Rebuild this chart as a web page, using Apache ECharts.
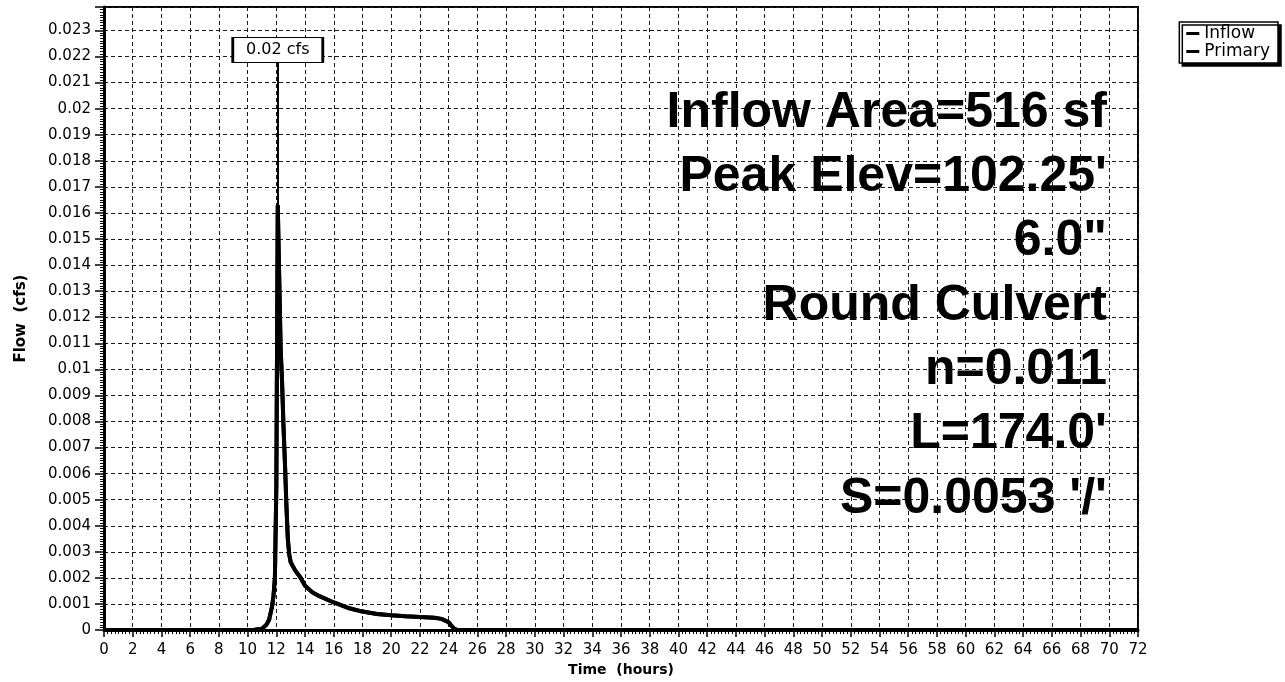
<!DOCTYPE html>
<html>
<head>
<meta charset="utf-8">
<script src="https://cdn.jsdelivr.net/npm/echarts@6/dist/echarts.min.js"></script>
<style>
html,body{margin:0;padding:0;background:#fff;}
#chart{width:1285px;height:682px;}
</style>
</head>
<body>
<div id="chart"></div>
<script>
// ---- data ----
const timeHours = [0, 10.0, 10.5, 11.0, 11.3, 11.5, 11.7, 11.8, 11.9, 12.0, 12.05, 12.1, 12.2, 12.3, 12.4, 12.5, 12.6, 12.7, 12.8, 12.9, 13.0, 13.3, 13.7, 14.0, 14.5, 15.0, 16.0, 17.0, 18.0, 19.0, 20.0, 21.0, 22.0, 23.0, 23.5, 24.0, 24.2, 24.4, 24.6, 72];
const inflowCfs = [0, 0, 0.00001, 0.00005, 0.0002, 0.0004, 0.0009, 0.0013, 0.002, 0.0055, 0.011, 0.0163, 0.0135, 0.0108, 0.0095, 0.0078, 0.0064, 0.0048, 0.0035, 0.0029, 0.0026, 0.0023, 0.0020, 0.0017, 0.00145, 0.0013, 0.00106, 0.00085, 0.00071, 0.00062, 0.00057, 0.00053, 0.0005, 0.00047, 0.00043, 0.0003, 0.00016, 0.00005, 0, 0];
const primaryCfs = [0, 0, 0.00001, 0.00005, 0.0002, 0.0004, 0.0009, 0.0013, 0.002, 0.0055, 0.011, 0.0163, 0.0135, 0.0108, 0.0095, 0.0078, 0.0064, 0.0048, 0.0035, 0.0029, 0.0026, 0.0023, 0.0020, 0.0017, 0.00145, 0.0013, 0.00106, 0.00085, 0.00071, 0.00062, 0.00057, 0.00053, 0.0005, 0.00047, 0.00043, 0.0003, 0.00016, 0.00005, 0, 0];
const seriesNames = ['Inflow', 'Primary'];
const peakTime = 12.1;
const peakFlow = 0.0163;
const peakLabel = '0.02 cfs';
const infoLines = ['Inflow Area=516 sf', "Peak Elev=102.25'", '6.0"', 'Round Culvert', 'n=0.011', "L=174.0'", "S=0.0053 '/'"];
const xAxisName = 'Time  (hours)';
const yAxisName = 'Flow  (cfs)';

// ---- layout constants ----
const LABEL_BOX_Y = 0.02225;
const LEADER_TOP_Y = 0.0218;
const SMALL_FONT = 'DejaVu Sans';
const BIG_FONT = 'Liberation Sans, Arial, sans-serif';

const chart = echarts.init(document.getElementById('chart'), null, {renderer: 'canvas'});

function pairs(xs, ys) { return xs.map((x, i) => [x, ys[i]]); }

const dashed = {show: true, lineStyle: {color: '#1a1a1a', width: 1, type: [4, 3]}};

const textGraphics = infoLines.map((line, i) => ({
  type: 'text',
  right: 1285 - 1107,
  top: 114 + i * 64.3 - 26,
  style: {
    text: line,
    fill: '#000',
    font: 'bold 50px ' + BIG_FONT,
    textAlign: 'right'
  },
  z: 5
}));

chart.setOption({
  animation: false,
  backgroundColor: '#fff',
  grid: {left: 104, right: 147, top: 7, bottom: 51, show: true, borderColor: '#000', borderWidth: 2, backgroundColor: 'transparent'},
  legend: {
    data: seriesNames,
    orient: 'vertical',
    right: 7,
    top: 22,
    padding: [3, 8, 3, 7],
    itemGap: 1,
    itemWidth: 13,
    itemHeight: 3,
    icon: 'rect',
    backgroundColor: '#fff',
    borderColor: '#000',
    borderWidth: 1.5,
    shadowColor: '#000',
    shadowBlur: 0,
    shadowOffsetX: 3,
    shadowOffsetY: 3,
    textStyle: {fontFamily: SMALL_FONT, fontSize: 17, color: '#000'}
  },
  xAxis: {
    type: 'value',
    min: 0, max: 72, interval: 2,
    name: xAxisName,
    nameLocation: 'middle',
    nameGap: 32,
    nameTextStyle: {fontFamily: SMALL_FONT, fontWeight: 'bold', fontSize: 14, color: '#000'},
    axisLine: {show: true, onZero: false, lineStyle: {color: '#000', width: 3}},
    axisTick: {show: true, length: 7, lineStyle: {color: '#000', width: 1.5}},
    minorTick: {show: true, splitNumber: 8, length: 4, lineStyle: {color: '#000', width: 1}},
    axisLabel: {fontFamily: SMALL_FONT, fontSize: 15, color: '#000', margin: 13},
    splitLine: dashed
  },
  yAxis: {
    type: 'value',
    min: 0, max: 0.0239, interval: 0.001,
    name: yAxisName,
    nameLocation: 'middle',
    nameGap: 75,
    nameRotate: 90,
    nameTextStyle: {fontFamily: SMALL_FONT, fontWeight: 'bold', fontSize: 15, color: '#000'},
    axisLine: {show: true, onZero: false, lineStyle: {color: '#000', width: 3}},
    axisTick: {show: true, length: 9, lineStyle: {color: '#000', width: 1.5}},
    minorTick: {show: true, splitNumber: 10, length: 4, lineStyle: {color: '#000', width: 1}},
    axisLabel: {
      fontFamily: SMALL_FONT, fontSize: 15, color: '#000', margin: 13,
      showMaxLabel: false,
      formatter: v => String(parseFloat(v.toFixed(4)))
    },
    splitLine: dashed
  },
  series: [
    {
      name: seriesNames[0],
      type: 'line',
      data: pairs(timeHours, inflowCfs),
      showSymbol: false,
      smooth: false,
      lineStyle: {color: '#000', width: 4},
      itemStyle: {color: '#000'},
      z: 3,
      markLine: {
        silent: true,
        symbol: 'none',
        label: {show: false},
        lineStyle: {color: '#000', width: 2, type: 'solid'},
        data: [[{coord: [peakTime, peakFlow]}, {coord: [peakTime, LEADER_TOP_Y]}]]
      },
      markPoint: {
        silent: true,
        symbol: 'rect',
        symbolSize: [90, 25],
        itemStyle: {color: '#fff', borderColor: '#000', borderWidth: 1.5},
        label: {show: true, position: 'inside', formatter: peakLabel, color: '#000', fontFamily: SMALL_FONT, fontSize: 16},
        data: [{coord: [peakTime, LABEL_BOX_Y]}],
        z: 10
      }
    },
    {
      name: seriesNames[1],
      type: 'line',
      data: pairs(timeHours, primaryCfs),
      showSymbol: false,
      smooth: false,
      lineStyle: {color: '#000', width: 4},
      itemStyle: {color: '#000'},
      z: 3
    }
  ],
  graphic: textGraphics
});
</script>
</body>
</html>
